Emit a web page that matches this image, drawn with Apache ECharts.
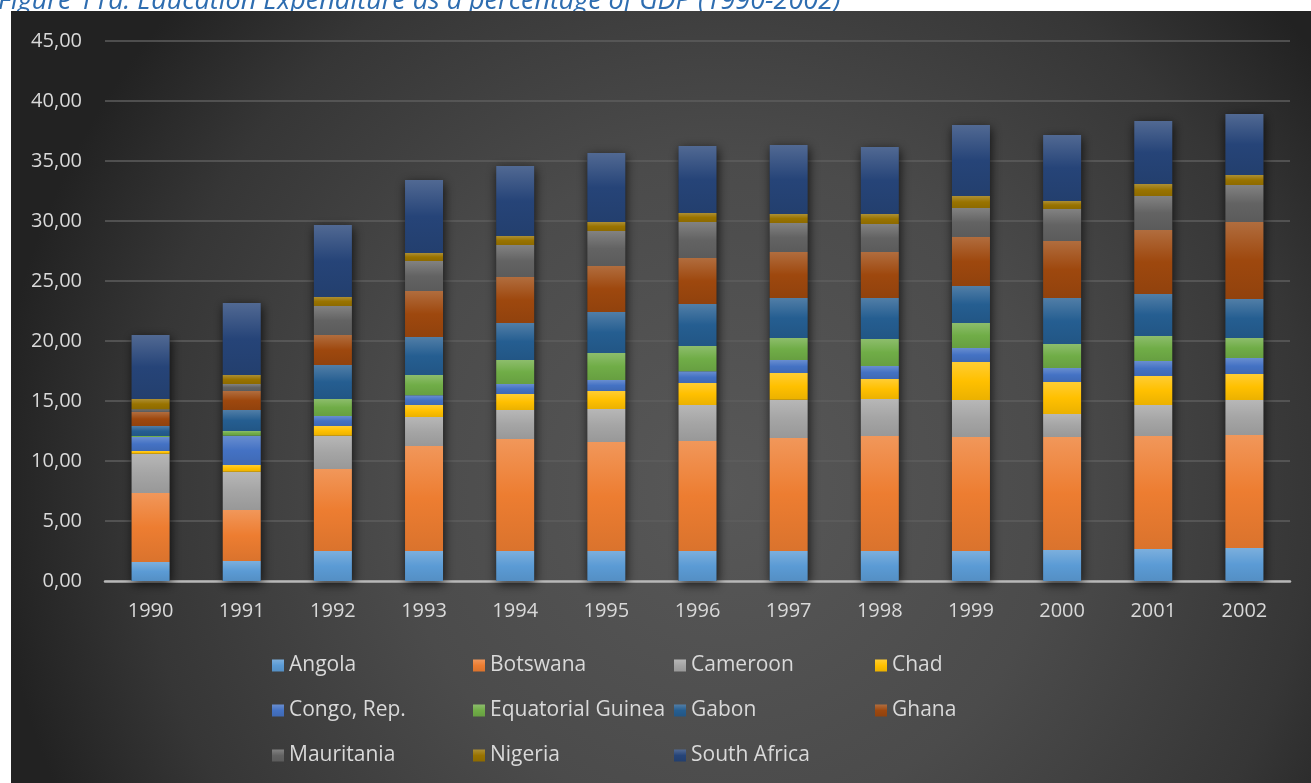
<!DOCTYPE html>
<html>
<head>
<meta charset="utf-8">
<script src="https://cdn.jsdelivr.net/npm/echarts@6/dist/echarts.min.js"></script>
<style>
html,body{margin:0;padding:0;background:#ffffff;}
#chart{width:1311px;height:783px;}
</style>
</head>
<body>
<div id="chart"></div>
<script>
const titleText = 'Figure 11a: Education Expenditure as a percentage of GDP (1990-2002)';
const years = ['1990','1991','1992','1993','1994','1995','1996','1997','1998','1999','2000','2001','2002'];
const yTicks = [0,5,10,15,20,25,30,35,40,45];

const angola      = [1.58,1.67,2.50,2.50,2.50,2.50,2.50,2.50,2.50,2.50,2.58,2.67,2.75];
const botswana    = [5.75,4.25,6.83,8.75,9.33,9.08,9.17,9.42,9.58,9.50,9.42,9.41,9.42];
const cameroon    = [3.28,3.19,2.78,2.42,2.42,2.75,3.00,3.19,3.09,3.08,1.92,2.59,2.91];
const chad        = [0.22,0.56,0.81,1.00,1.33,1.50,1.83,2.22,1.66,3.17,2.66,2.41,2.17];
const congo       = [1.17,2.44,0.83,0.80,0.84,0.92,0.97,1.09,1.09,1.17,1.17,1.25,1.33];
const eqGuinea    = [0.08,0.39,1.42,1.70,2.00,2.25,2.11,1.83,2.25,2.08,2.00,2.09,1.67];
const gabon       = [0.84,1.75,2.83,3.16,3.08,3.42,3.50,3.33,3.41,3.08,3.83,3.50,3.25];
const ghana       = [1.16,1.58,2.50,3.84,3.83,3.83,3.84,3.84,3.84,4.09,4.75,5.33,6.42];
const mauritania  = [0.23,0.59,2.42,2.50,2.67,2.92,3.00,2.41,2.33,2.41,2.67,2.83,3.08];
const nigeria     = [0.86,0.75,0.75,0.66,0.75,0.75,0.75,0.75,0.83,1.00,0.67,1.00,0.83];
const southAfrica = [5.33,6.00,6.00,6.09,5.83,5.75,5.58,5.75,5.59,5.92,5.50,5.25,5.09];

const seriesNames = ['Angola','Botswana','Cameroon','Chad','Congo, Rep.','Equatorial Guinea','Gabon','Ghana','Mauritania','Nigeria','South Africa'];
const seriesData = [angola,botswana,cameroon,chad,congo,eqGuinea,gabon,ghana,mauritania,nigeria,southAfrica];
const seriesColors = ['#5B9BD5','#ED7D31','#A5A5A5','#FFC000','#4472C4','#70AD47','#255E91','#9E480E','#636363','#997300','#264478'];

function mix(hex, target, t){
  const a = parseInt(hex.slice(1),16);
  const r=(a>>16)&255, g=(a>>8)&255, b=a&255;
  const m = target==='w'?255:0;
  const f = v => Math.round(v+(m-v)*t);
  return 'rgb('+f(r)+','+f(g)+','+f(b)+')';
}
function grad(c){
  return new echarts.graphic.LinearGradient(0,0,0,1,[
    {offset:0,color:mix(c,'w',0.2)},
    {offset:0.5,color:c},
    {offset:1,color:mix(c,'k',0.08)}
  ]);
}

const fontFam = '"Open Sans", sans-serif';
const textColor = '#d9d9d9';
const fs = 20;

const totals = years.map((_,i)=>seriesData.reduce((s,arr)=>s+arr[i],0));

const series = [{
  name:'__shadow',
  type:'bar',
  data:totals,
  barWidth:38,
  barGap:'-100%',
  z:1,
  silent:true,
  itemStyle:{color:'#2a2a2a',shadowBlur:10,shadowColor:'rgba(0,0,0,0.75)',shadowOffsetX:1,shadowOffsetY:3},
  legendHoverLink:false
}];
seriesNames.forEach((n,i)=>{
  series.push({
    name:n,
    type:'bar',
    stack:'total',
    barWidth:38,
    barGap:'-100%',
    z:2,
    data:seriesData[i],
    itemStyle:{color:grad(seriesColors[i])}
  });
});

const legends = seriesNames.map((n,i)=>{
  const col=i%4,row=Math.floor(i/4);
  return {
    data:[n],
    left:272+col*201,
    top:655+row*45,
    padding:0,
    itemWidth:12,
    itemHeight:12,
    icon:'rect',
    selectedMode:false,
    textStyle:{color:textColor,fontSize:21,fontFamily:fontFam}
  };
});

const chart = echarts.init(document.getElementById('chart'),null,{renderer:'canvas'});
chart.setOption({
  backgroundColor:'#ffffff',
  animation:false,
  graphic:[
    {type:'text',z:-10,style:{x:-2,y:15,text:titleText,font:'italic 27px '+fontFam,fill:'#2E6DB0',textAlign:'left',textVerticalAlign:'bottom',align:'left',verticalAlign:'bottom'}},
    {type:'rect',z:-5,shape:{x:11,y:11,width:1300,height:772},
     style:{fill:new echarts.graphic.RadialGradient(0.55,0.62,0.95,[
       {offset:0,color:'#585858'},
       {offset:0.45,color:'#4b4b4b'},
       {offset:0.8,color:'#363636'},
       {offset:1,color:'#222222'}])}}
  ],
  legend:legends,
  grid:{left:105,right:21,top:41,bottom:202,containLabel:false},
  xAxis:{
    type:'category',
    data:years,
    axisLine:{lineStyle:{color:'#b8b8b8',width:2.5}},
    axisTick:{show:false},
    axisLabel:{color:textColor,fontSize:fs,fontFamily:fontFam,margin:20}
  },
  yAxis:{
    type:'value',
    min:yTicks[0],
    max:yTicks[yTicks.length-1],
    interval:yTicks[1]-yTicks[0],
    axisLine:{show:false},
    axisTick:{show:false},
    splitLine:{lineStyle:{color:'#5e5e5e',width:1.5}},
    axisLabel:{color:textColor,fontSize:fs,fontFamily:fontFam,margin:23,
      formatter:v=>v.toFixed(2).replace('.',',')}
  },
  series:series
});
</script>
</body>
</html>
